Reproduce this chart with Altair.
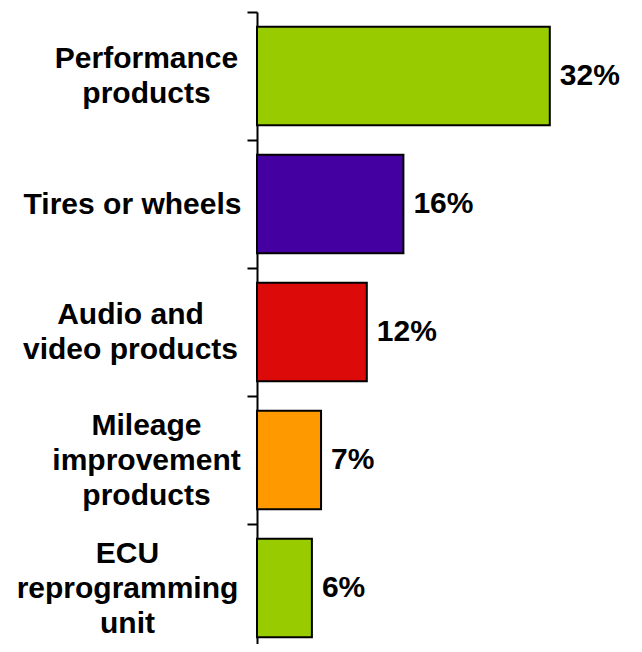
import altair as alt
import pandas as pd

# Data
categories = [
    "Performance|products",
    "Tires or wheels",
    "Audio and|video products",
    "Mileage|improvement|products",
    "ECU|reprogramming|unit",
]
values = [32, 16, 12, 7, 6]

# Styling
palette = ["#99CC00", "#4400A0", "#DD0A0A", "#FF9900", "#99CC00"]
label_pad = [101, 115, 117, 101, 120]
line_h = 35

df = pd.DataFrame({"category": categories, "value": values})

pad_cond = {
    "condition": [
        {"test": f"datum.value === '{c}'", "value": p}
        for c, p in zip(categories, label_pad)
    ],
    "value": 110,
}

# shift multi-line labels up so the block is centred on the band
off_cond = {
    "condition": [
        {"test": f"datum.value === '{c}'", "value": -(len(c.split('|')) - 1) * line_h / 2}
        for c in categories
    ],
    "value": 0,
}

y_enc = alt.Y(
    "category:N",
    sort=categories,
    scale=alt.Scale(paddingInner=0, paddingOuter=0),
    axis=alt.Axis(
        title=None,
        labelExpr="split(datum.label, '|')",
        labelAlign="center",
        labelBaseline="middle",
        labelFont="Liberation Sans",
        labelFontSize=30,
        labelFontWeight="bold",
        labelColor="black",
        labelLineHeight=line_h,
        labelPadding=pad_cond,
        labelOffset=off_cond,
        labelOverlap=False,
        labelLimit=0,
        tickBand="extent",
        tickSize=10,
        tickWidth=2,
        tickColor="black",
        domainColor="black",
        domainWidth=2,
    ),
)

x_enc = alt.X(
    "value:Q",
    scale=alt.Scale(domain=[0, 40], nice=False, zero=True),
    axis=None,
)

base = alt.Chart(df).encode(x=x_enc, y=y_enc)

bars = base.mark_bar(
    height=alt.RelativeBandSize(band=0.77),
    stroke="black",
    strokeWidth=2,
).encode(
    color=alt.Color(
        "category:N",
        scale=alt.Scale(domain=categories, range=palette),
        legend=None,
    )
)

texts = base.transform_calculate(
    label="datum.value + '%'"
).mark_text(
    align="left",
    baseline="middle",
    dx=10,
    font="Liberation Sans",
    fontSize=30,
    fontWeight="bold",
    color="black",
).encode(text="label:N")

chart = (
    alt.layer(bars, texts)
    .properties(
        width=366,
        height=640,
        padding={"left": 249, "top": 4, "right": 10, "bottom": -8},
        autosize=alt.AutoSizeParams(type="none"),
    )
    .configure_view(stroke=None)
)

chart.save("out.html", embed_options={"renderer": "svg", "actions": False})
